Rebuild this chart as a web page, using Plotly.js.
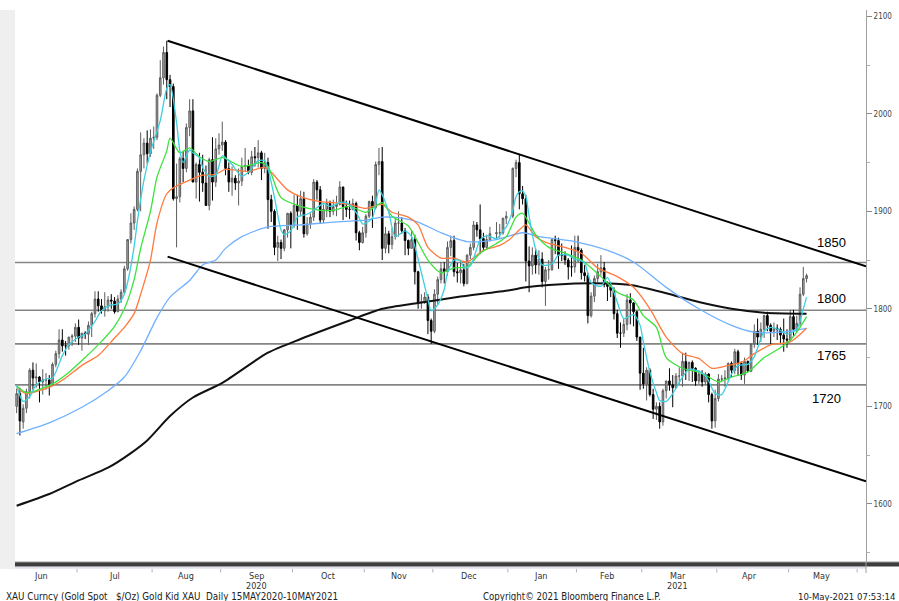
<!DOCTYPE html>
<html><head><meta charset="utf-8">
<script src="https://cdn.plot.ly/plotly-3.0.1.min.js"></script>
<style>html,body{margin:0;padding:0;background:#fff;}#chart{width:899px;height:601px;}</style>
</head><body><div id="chart"></div>
<script>
// ---------- daily candles (XAU spot) ----------
const dates = [
'2020-06-04','2020-06-05','2020-06-08','2020-06-09','2020-06-10','2020-06-11','2020-06-12','2020-06-15','2020-06-16','2020-06-17','2020-06-18','2020-06-19','2020-06-22','2020-06-23','2020-06-24','2020-06-25','2020-06-26','2020-06-29','2020-06-30',
'2020-07-01','2020-07-02','2020-07-03','2020-07-06','2020-07-07','2020-07-08','2020-07-09','2020-07-10','2020-07-13','2020-07-14','2020-07-15','2020-07-16','2020-07-17','2020-07-20','2020-07-21','2020-07-22','2020-07-23','2020-07-24','2020-07-27','2020-07-28','2020-07-29','2020-07-30','2020-07-31',
'2020-08-03','2020-08-04','2020-08-05','2020-08-06','2020-08-07','2020-08-10','2020-08-11','2020-08-12','2020-08-13','2020-08-14','2020-08-17','2020-08-18','2020-08-19','2020-08-20','2020-08-21','2020-08-24','2020-08-25','2020-08-26','2020-08-27','2020-08-28','2020-08-31',
'2020-09-01','2020-09-02','2020-09-03','2020-09-04','2020-09-07','2020-09-08','2020-09-09','2020-09-10','2020-09-11','2020-09-14','2020-09-15','2020-09-16','2020-09-17','2020-09-18','2020-09-21','2020-09-22','2020-09-23','2020-09-24','2020-09-25','2020-09-28','2020-09-29','2020-09-30',
'2020-10-01','2020-10-02','2020-10-05','2020-10-06','2020-10-07','2020-10-08','2020-10-09','2020-10-12','2020-10-13','2020-10-14','2020-10-15','2020-10-16','2020-10-19','2020-10-20','2020-10-21','2020-10-22','2020-10-23','2020-10-26','2020-10-27','2020-10-28','2020-10-29','2020-10-30',
'2020-11-02','2020-11-03','2020-11-04','2020-11-05','2020-11-06','2020-11-09','2020-11-10','2020-11-11','2020-11-12','2020-11-13','2020-11-16','2020-11-17','2020-11-18','2020-11-19','2020-11-20','2020-11-23','2020-11-24','2020-11-25','2020-11-26','2020-11-27','2020-11-30',
'2020-12-01','2020-12-02','2020-12-03','2020-12-04','2020-12-07','2020-12-08','2020-12-09','2020-12-10','2020-12-11','2020-12-14','2020-12-15','2020-12-16','2020-12-17','2020-12-18','2020-12-21','2020-12-22','2020-12-23','2020-12-24','2020-12-28','2020-12-29','2020-12-30','2020-12-31',
'2021-01-04','2021-01-05','2021-01-06','2021-01-07','2021-01-08','2021-01-11','2021-01-12','2021-01-13','2021-01-14','2021-01-15','2021-01-18','2021-01-19','2021-01-20','2021-01-21','2021-01-22','2021-01-25','2021-01-26','2021-01-27','2021-01-28','2021-01-29',
'2021-02-01','2021-02-02','2021-02-03','2021-02-04','2021-02-05','2021-02-08','2021-02-09','2021-02-10','2021-02-11','2021-02-12','2021-02-15','2021-02-16','2021-02-17','2021-02-18','2021-02-19','2021-02-22','2021-02-23','2021-02-24','2021-02-25','2021-02-26',
'2021-03-01','2021-03-02','2021-03-03','2021-03-04','2021-03-05','2021-03-08','2021-03-09','2021-03-10','2021-03-11','2021-03-12','2021-03-15','2021-03-16','2021-03-17','2021-03-18','2021-03-19','2021-03-22','2021-03-23','2021-03-24','2021-03-25','2021-03-26','2021-03-29','2021-03-30','2021-03-31',
'2021-04-01','2021-04-02','2021-04-05','2021-04-06','2021-04-07','2021-04-08','2021-04-09','2021-04-12','2021-04-13','2021-04-14','2021-04-15','2021-04-16','2021-04-19','2021-04-20','2021-04-21','2021-04-22','2021-04-23','2021-04-26','2021-04-27','2021-04-28','2021-04-29','2021-04-30',
'2021-05-03','2021-05-04','2021-05-05','2021-05-06','2021-05-07','2021-05-10'];

const open = [
1700,1713,1684,1698,1715,1737,1729,1730,1725,1727,1727,1722,1743,1754,1768,1762,1762,1771,1772,
1781,1770,1775,1774,1783,1795,1810,1803,1798,1802,1809,1808,1797,1810,1817,1841,1871,1888,1902,1941,1958,1970,1959,
1975,1976,2019,2037,2063,2035,2028,1913,1915,1954,1944,1986,2003,1930,1948,1940,1929,1906,1953,1930,1964,
1968,1971,1944,1930,1934,1929,1931,1946,1947,1940,1956,1955,1960,1944,1950,1912,1900,1863,1868,1862,1881,1898,
1886,1906,1900,1913,1877,1887,1894,1930,1922,1891,1902,1908,1900,1905,1907,1925,1905,1902,1902,1908,1878,1868,
1878,1895,1910,1904,1948,1951,1862,1877,1866,1874,1888,1888,1880,1870,1862,1871,1838,1806,1807,1812,1788,
1777,1815,1830,1841,1838,1863,1870,1838,1837,1840,1826,1855,1863,1886,1881,1872,1863,1871,1877,1878,1878,1893,
1895,1944,1950,1918,1913,1849,1844,1855,1845,1851,1828,1840,1840,1871,1870,1855,1855,1850,1843,1843,
1863,1860,1837,1834,1793,1813,1831,1838,1842,1825,1823,1819,1795,1775,1775,1784,1809,1806,1797,1771,
1734,1723,1737,1712,1697,1700,1684,1716,1726,1722,1719,1731,1731,1746,1737,1745,1739,1726,1733,1725,1733,1712,1685,
1708,1728,1728,1729,1744,1737,1756,1744,1732,1746,1736,1764,1777,1771,1779,1793,1783,1777,1780,1779,1773,1769,
1768,1792,1779,1785,1815,1831];

const high = [
1718,1719,1702,1718,1739,1745,1744,1731,1738,1734,1732,1745,1757,1779,1779,1767,1771,1774,1785,
1789,1775,1777,1787,1797,1818,1818,1810,1817,1813,1815,1812,1814,1820,1844,1871,1898,1905,1944,1981,1975,1983,1984,
1987,2021,2055,2069,2075,2040,2031,1949,1956,1962,1990,2015,2015,1950,1960,1958,1947,1955,1976,1975,1980,
1992,1973,1950,1946,1937,1944,1955,1965,1953,1962,1966,1973,1962,1960,1955,1917,1902,1875,1871,1882,1898,1900,
1917,1917,1921,1920,1894,1898,1933,1932,1926,1907,1913,1911,1912,1916,1931,1925,1911,1911,1913,1910,1880,1884,
1897,1911,1916,1951,1965,1966,1884,1880,1883,1892,1900,1894,1883,1871,1881,1876,1839,1815,1817,1815,1790,
1820,1833,1848,1848,1869,1875,1875,1847,1849,1846,1856,1867,1890,1889,1907,1878,1876,1884,1889,1887,1893,1900,
1945,1953,1959,1926,1917,1864,1863,1862,1860,1858,1843,1850,1871,1875,1873,1867,1859,1852,1865,1875,
1875,1862,1845,1837,1817,1834,1846,1855,1848,1828,1827,1822,1799,1786,1790,1815,1816,1807,1798,1771,
1760,1740,1739,1718,1704,1704,1718,1726,1739,1732,1734,1740,1755,1755,1746,1747,1740,1737,1737,1735,1734,1714,1717,
1733,1732,1737,1745,1746,1759,1758,1746,1750,1747,1764,1784,1790,1786,1794,1797,1785,1786,1784,1781,1790,1779,
1799,1799,1793,1822,1843,1836];

const low = [
1693,1670,1677,1693,1708,1717,1719,1704,1712,1717,1711,1721,1740,1749,1756,1752,1758,1762,1766,
1763,1757,1769,1763,1771,1791,1797,1795,1792,1797,1800,1795,1797,1806,1815,1839,1867,1881,1900,1900,1944,1949,1956,
1964,1973,2017,2030,2015,2007,1911,1863,1909,1930,1940,1977,1930,1913,1910,1920,1906,1901,1911,1925,1958,
1962,1937,1920,1916,1922,1906,1926,1941,1938,1937,1946,1945,1932,1939,1882,1889,1855,1849,1851,1859,1873,1862,
1883,1881,1895,1873,1875,1882,1890,1912,1887,1888,1894,1894,1896,1895,1906,1891,1894,1892,1901,1870,1860,1867,
1873,1893,1883,1902,1937,1850,1857,1857,1861,1871,1874,1877,1855,1855,1862,1825,1800,1800,1805,1774,1764,
1775,1805,1826,1826,1834,1854,1833,1827,1826,1823,1825,1851,1860,1874,1856,1859,1861,1869,1871,1873,1876,1887,
1893,1935,1902,1907,1828,1817,1835,1836,1835,1822,1803,1830,1839,1856,1841,1849,1845,1830,1833,1837,
1848,1830,1828,1785,1791,1807,1827,1834,1822,1808,1812,1789,1770,1760,1771,1778,1784,1782,1767,1717,
1718,1706,1710,1687,1686,1677,1680,1708,1716,1699,1718,1723,1720,1727,1726,1725,1721,1723,1720,1722,1704,1677,1678,
1705,1725,1720,1726,1730,1733,1731,1727,1723,1735,1735,1760,1763,1766,1770,1777,1764,1771,1768,1764,1756,1760,
1767,1771,1776,1782,1813,1827];

const close = [
1713,1685,1698,1715,1737,1729,1730,1725,1727,1727,1722,1743,1754,1768,1762,1762,1771,1772,1781,
1770,1775,1774,1783,1795,1810,1803,1798,1802,1809,1808,1797,1810,1817,1841,1871,1888,1902,1941,1958,1970,1959,1975,
1976,2019,2037,2063,2035,2028,1913,1915,1954,1944,1986,2003,1930,1948,1940,1929,1906,1953,1930,1964,1968,
1971,1944,1930,1934,1929,1931,1946,1947,1940,1956,1955,1960,1944,1950,1912,1900,1863,1868,1862,1881,1898,1886,
1906,1900,1913,1877,1887,1894,1930,1922,1891,1902,1908,1900,1905,1907,1925,1905,1902,1902,1908,1878,1868,1878,
1895,1910,1904,1948,1951,1862,1877,1866,1874,1888,1888,1880,1870,1862,1871,1838,1806,1807,1812,1788,1777,
1815,1830,1841,1838,1863,1870,1838,1837,1840,1826,1855,1863,1886,1881,1872,1863,1871,1877,1878,1878,1893,1895,
1944,1950,1918,1913,1849,1844,1855,1845,1851,1828,1840,1840,1871,1870,1855,1855,1850,1843,1843,1863,
1860,1837,1834,1793,1813,1831,1838,1842,1825,1823,1819,1795,1775,1775,1784,1809,1806,1797,1771,1734,
1723,1737,1712,1697,1700,1684,1716,1726,1722,1719,1731,1731,1746,1737,1745,1739,1726,1733,1725,1733,1712,1685,1708,
1728,1728,1729,1744,1737,1756,1744,1732,1746,1736,1764,1777,1771,1779,1793,1783,1777,1780,1779,1773,1769,1768,
1792,1779,1785,1815,1831,1834];

// ---------- moving averages ----------
const cyanDates = ['2020-06-04','2020-06-08','2020-06-10','2020-06-12','2020-06-17','2020-06-19','2020-06-24','2020-06-26','2020-07-01','2020-07-03','2020-07-08','2020-07-10','2020-07-15','2020-07-17','2020-07-21','2020-07-22','2020-07-24','2020-07-27','2020-07-29','2020-07-31','2020-08-05','2020-08-07','2020-08-10','2020-08-12','2020-08-13','2020-08-14','2020-08-18','2020-08-19','2020-08-21','2020-08-24','2020-08-26','2020-08-28','2020-09-01','2020-09-02','2020-09-04','2020-09-09','2020-09-11','2020-09-16','2020-09-18','2020-09-21','2020-09-23','2020-09-25','2020-09-28','2020-09-30','2020-10-02','2020-10-07','2020-10-09','2020-10-14','2020-10-16','2020-10-21','2020-10-23','2020-10-28','2020-10-30','2020-11-02','2020-11-04','2020-11-06','2020-11-09','2020-11-11','2020-11-13','2020-11-18','2020-11-20','2020-11-23','2020-11-25','2020-11-27','2020-11-30','2020-12-02','2020-12-04','2020-12-07','2020-12-09','2020-12-11','2020-12-14','2020-12-16','2020-12-18','2020-12-21','2020-12-23','2020-12-28','2020-12-30','2020-12-31','2021-01-04','2021-01-05','2021-01-06','2021-01-07','2021-01-08','2021-01-11','2021-01-12','2021-01-13','2021-01-15','2021-01-20','2021-01-22','2021-01-27','2021-01-29','2021-02-02','2021-02-03','2021-02-05','2021-02-10','2021-02-12','2021-02-17','2021-02-19','2021-02-24','2021-02-26','2021-03-01','2021-03-03','2021-03-05','2021-03-08','2021-03-10','2021-03-12','2021-03-17','2021-03-19','2021-03-24','2021-03-26','2021-03-29','2021-03-31','2021-04-02','2021-04-07','2021-04-09','2021-04-14','2021-04-16','2021-04-21','2021-04-23','2021-04-28','2021-04-30','2021-05-05','2021-05-07','2021-05-10'];
const cyanValues = [1721,1705,1710,1722,1728,1729,1752,1763,1771,1774,1787,1798,1804,1805,1815,1827,1864,1890,1932,1961,1993,2026,2030,1991,1962,1950,1963,1960,1955,1945,1936,1937,1957,1955,1948,1936,1940,1952,1952,1944,1914,1881,1876,1880,1894,1897,1901,1908,1905,1909,1909,1899,1887,1888,1893,1922,1917,1899,1874,1880,1874,1864,1837,1810,1798,1804,1820,1837,1850,1849,1842,1844,1862,1871,1875,1872,1880,1884,1901,1915,1920,1921,1915,1895,1876,1861,1845,1846,1855,1855,1851,1849,1847,1827,1823,1832,1807,1790,1794,1783,1766,1735,1714,1706,1705,1713,1730,1738,1736,1731,1726,1713,1712,1733,1742,1743,1751,1777,1781,1778,1774,1779,1800,1812];

const greenDates = ['2020-06-04','2020-06-09','2020-06-19','2020-06-25','2020-07-02','2020-07-09','2020-07-16','2020-07-21','2020-07-24','2020-07-28','2020-07-31','2020-08-04','2020-08-07','2020-08-10','2020-08-13','2020-08-18','2020-08-21','2020-08-26','2020-09-01','2020-09-09','2020-09-17','2020-09-21','2020-09-25','2020-10-05','2020-10-13','2020-10-19','2020-10-26','2020-11-02','2020-11-09','2020-11-12','2020-11-19','2020-11-24','2020-11-27','2020-12-03','2020-12-09','2020-12-15','2020-12-21','2020-12-28','2020-12-31','2021-01-05','2021-01-07','2021-01-13','2021-01-19','2021-01-26','2021-02-02','2021-02-10','2021-02-17','2021-02-24','2021-03-01','2021-03-05','2021-03-10','2021-03-17','2021-03-24','2021-03-29','2021-04-01','2021-04-07','2021-04-14','2021-04-21','2021-04-28','2021-05-03','2021-05-06','2021-05-10'];
const greenValues = [1721,1714,1723,1732,1747,1763,1782,1800,1830,1862,1900,1935,1962,1975,1960,1965,1956,1951,1955,1946,1950,1946,1914,1905,1901,1901,1905,1899,1909,1895,1885,1868,1850,1837,1842,1843,1857,1867,1874,1894,1898,1876,1863,1857,1850,1833,1817,1809,1793,1781,1750,1739,1735,1730,1725,1730,1735,1750,1760,1768,1781,1792];

const orangeDates = ['2020-06-04','2020-06-09','2020-06-19','2020-06-25','2020-07-02','2020-07-09','2020-07-16','2020-07-21','2020-07-24','2020-07-28','2020-07-31','2020-08-04','2020-08-07','2020-08-11','2020-08-18','2020-08-24','2020-08-28','2020-09-02','2020-09-11','2020-09-18','2020-09-22','2020-09-29','2020-10-05','2020-10-13','2020-10-19','2020-10-26','2020-11-02','2020-11-09','2020-11-12','2020-11-19','2020-11-24','2020-11-27','2020-12-03','2020-12-09','2020-12-15','2020-12-22','2020-12-29','2021-01-01','2021-01-06','2021-01-08','2021-01-13','2021-01-19','2021-01-26','2021-02-02','2021-02-09','2021-02-17','2021-02-24','2021-03-03','2021-03-10','2021-03-17','2021-03-24','2021-03-30','2021-04-06','2021-04-12','2021-04-16','2021-04-23','2021-05-03','2021-05-10'];
const orangeValues = [1719,1713,1721,1729,1742,1752,1770,1781,1795,1815,1850,1888,1918,1924,1932,1937,1938,1943,1941,1945,1940,1922,1915,1910,1909,1907,1903,1907,1899,1894,1886,1863,1852,1852,1848,1860,1865,1871,1881,1886,1874,1867,1863,1857,1842,1833,1822,1800,1771,1754,1749,1739,1742,1745,1754,1763,1766,1780];

const blueDates = ['2020-06-04','2020-06-18','2020-07-02','2020-07-14','2020-07-21','2020-07-28','2020-08-04','2020-08-10','2020-08-18','2020-08-24','2020-08-28','2020-09-02','2020-09-09','2020-09-21','2020-10-05','2020-10-19','2020-11-02','2020-11-09','2020-11-17','2020-11-24','2020-12-03','2020-12-15','2020-12-28','2021-01-07','2021-01-14','2021-01-29','2021-02-12','2021-02-24','2021-03-10','2021-03-24','2021-04-07','2021-04-16','2021-04-28','2021-05-10'];
const blueValues = [1672,1683,1699,1716,1730,1757,1791,1812,1829,1845,1850,1862,1874,1884,1886,1889,1891,1894,1893,1889,1878,1869,1871,1878,1874,1869,1860,1848,1822,1800,1783,1776,1776,1780];

const blackDates = ['2020-06-04','2020-06-18','2020-07-01','2020-07-14','2020-07-23','2020-07-30','2020-08-10','2020-08-19','2020-09-01','2020-09-21','2020-10-05','2020-10-26','2020-11-09','2020-11-24','2020-12-10','2021-01-01','2021-01-08','2021-01-29','2021-02-12','2021-02-24','2021-03-10','2021-03-24','2021-04-07','2021-04-21','2021-05-10'];
const blackValues = [1598,1610,1624,1637,1652,1665,1690,1709,1724,1755,1769,1788,1800,1806,1812,1819,1822,1826,1826,1824,1816,1807,1800,1796,1795];

// ---------- drawn trend channel and levels ----------
const upperTrendDates = ['2020-08-07 18:00','2021-06-03 17:00'];
const upperTrendPrices = [2075, 1843.5];
const lowerTrendDates = ['2020-08-07 18:00','2021-06-03 17:00'];
const lowerTrendPrices = [1853.5, 1623];
const levelValues = [1847.5, 1798.5, 1764, 1722];
const levelLabels = ['1850', '1800', '1765', '1720'];
const levelLabelY = [1868.5, 1811, 1752.5, 1708.5];

// ---------- axis labels ----------
const monthStarts = ['2020-07-01','2020-08-03','2020-09-01','2020-10-01','2020-11-02','2020-12-01','2021-01-01','2021-02-01','2021-03-01','2021-04-01','2021-05-03','2021-06-01'];
const monthMids = ['2020-06-16 00:00','2020-07-16 12:00','2020-08-17 12:00','2020-09-16 00:00','2020-10-16 00:00','2020-11-16 12:00','2020-12-16 00:00','2021-01-15 00:00','2021-02-12 12:00','2021-03-16 00:00','2021-04-15 00:00','2021-05-17 00:00'];
const monthLabels = ['Jun','Jul','Aug','Sep','Oct','Nov','Dec','Jan','Feb','Mar','Apr','May'];
const yearLabels = ['','','','2020','','','','','','2021','',''];

// ---------- geometry helpers ----------
const PL = 15, PR = 866, PT = 10, PB = 561;
const pxX = x => (x - PL) / (PR - PL);
const pxY = y => (PB - y) / (PB - PT);
const noon = d => d + ' 12:00';
const FONT = '"DejaVu Sans Condensed","DejaVu Sans",sans-serif';

const maLine = (xs, ys, color, width) => ({
  type: 'scatter', mode: 'lines', x: xs.map(noon), y: ys,
  line: {color: color, width: width, shape: 'spline', smoothing: 0.7},
  hoverinfo: 'skip', showlegend: false
});

const traces = [
  {type: 'candlestick', x: dates.map(noon), open: open, high: high, low: low, close: close,
   increasing: {line: {color: '#5c5c5c', width: 1}, fillcolor: '#acacac'},
   decreasing: {line: {color: '#000000', width: 1}, fillcolor: '#000000'},
   whiskerwidth: 0, hoverinfo: 'skip', showlegend: false},
  maLine(blackDates, blackValues, '#111111', 2),
  maLine(blueDates, blueValues, '#6fb0ff', 1.3),
  maLine(orangeDates, orangeValues, '#ff7a3c', 1.3),
  maLine(greenDates, greenValues, '#3be23b', 1.3),
  maLine(cyanDates, cyanValues, '#3ccfdf', 1.3),
  {type: 'scatter', mode: 'lines', x: upperTrendDates, y: upperTrendPrices,
   line: {color: '#000', width: 2}, hoverinfo: 'skip', showlegend: false},
  {type: 'scatter', mode: 'lines', x: lowerTrendDates, y: lowerTrendPrices,
   line: {color: '#000', width: 2}, hoverinfo: 'skip', showlegend: false}
];

const shapes = [];
// left grey strip
shapes.push({type: 'rect', xref: 'paper', yref: 'paper', x0: pxX(0), x1: pxX(15), y0: pxY(569), y1: pxY(10),
  fillcolor: '#efefef', line: {width: 0}, layer: 'below'});
// level lines
levelValues.forEach(v => shapes.push({type: 'line', xref: 'paper', yref: 'y', x0: 0, x1: 1, y0: v, y1: v,
  line: {color: '#858585', width: 1.6}, layer: 'below'}));
// bottom band
shapes.push({type: 'rect', xref: 'paper', yref: 'paper', x0: pxX(15), x1: pxX(899), y0: pxY(566.5), y1: pxY(562),
  fillcolor: '#3e3e3e', line: {width: 0}});
shapes.push({type: 'line', xref: 'paper', yref: 'paper', x0: pxX(15), x1: pxX(899), y0: pxY(562), y1: pxY(562),
  line: {color: '#9a9a9a', width: 1}});
shapes.push({type: 'line', xref: 'paper', yref: 'paper', x0: pxX(15), x1: pxX(866), y0: pxY(567.8), y1: pxY(567.8),
  line: {color: '#d4d4e6', width: 1.2}});
// axis line extension
shapes.push({type: 'line', xref: 'paper', yref: 'paper', x0: 1, x1: 1, y0: pxY(561), y1: pxY(573),
  line: {color: '#a0a0a0', width: 1}});
// month boundary ticks
monthStarts.forEach(d => shapes.push({type: 'line', xref: 'x', yref: 'paper', x0: d, x1: d,
  y0: pxY(569), y1: pxY(572.5), line: {color: '#b4b4b4', width: 1}}));

const annotations = [];
monthLabels.forEach((m, i) => {
  annotations.push({xref: 'x', yref: 'paper', x: monthMids[i], y: pxY(575.5), text: m, showarrow: false,
    xanchor: 'center', yanchor: 'middle', font: {family: FONT, size: 9, color: '#333'}});
  if (yearLabels[i]) annotations.push({xref: 'x', yref: 'paper', x: monthMids[i], y: pxY(585.5), text: yearLabels[i],
    showarrow: false, xanchor: 'center', yanchor: 'middle', font: {family: FONT, size: 9, color: '#333'}});
});
levelLabels.forEach((t, i) => annotations.push({xref: 'paper', yref: 'y', x: pxX(i === 3 ? 826 : 831), y: levelLabelY[i],
  text: t, showarrow: false, xanchor: 'center', yanchor: 'middle', font: {family: '"Liberation Sans",Arial,sans-serif', size: 13, color: '#000'}}));
annotations.push({xref: 'paper', yref: 'paper', x: pxX(4), y: pxY(596), xanchor: 'left', yanchor: 'middle', showarrow: false,
  text: 'XAU Curncy (Gold Spot\u00a0\u00a0\u00a0$/Oz) Gold Kid XAU\u00a0\u00a0Daily 15MAY2020-10MAY2021',
  font: {family: FONT, size: 9.8, color: '#222'}});
annotations.push({xref: 'paper', yref: 'paper', x: pxX(481), y: pxY(596), xanchor: 'left', yanchor: 'middle', showarrow: false,
  text: 'Copyright\u00a9 2021 Bloomberg Finance L.P.', font: {family: FONT, size: 9.6, color: '#222'}});
annotations.push({xref: 'paper', yref: 'paper', x: pxX(897), y: pxY(596), xanchor: 'right', yanchor: 'middle', showarrow: false,
  text: '10-May-2021 07:53:14', font: {family: FONT, size: 9.5, color: '#222'}});

const layout = {
  width: 899, height: 601, autosize: false,
  margin: {l: PL, r: 899 - PR, t: PT, b: 601 - PB, pad: 0},
  paper_bgcolor: '#fff', plot_bgcolor: '#fff', showlegend: false,
  xaxis: {type: 'date', range: ['2020-06-04 00:00', '2021-06-03 17:00'],
    rangebreaks: [{bounds: ['sat', 'mon']}], rangeslider: {visible: false},
    showgrid: false, zeroline: false, showline: false, ticks: '', showticklabels: false, fixedrange: true},
  yaxis: {side: 'right', range: [1541.3, 2106.5], tickmode: 'linear', tick0: 1600, dtick: 100,
    ticks: 'outside', ticklen: 5, tickwidth: 1, tickcolor: '#8a8a8a',
    minor: {dtick: 50, tick0: 1550, ticks: 'outside', ticklen: 3, tickcolor: '#b0b0b0'},
    tickfont: {family: FONT, size: 8, color: '#444'},
    showline: true, linecolor: '#a0a0a0', linewidth: 1, showgrid: false, zeroline: false, fixedrange: true},
  shapes: shapes, annotations: annotations
};

Plotly.newPlot('chart', traces, layout, {staticPlot: true, displayModeBar: false});
</script></body></html>
